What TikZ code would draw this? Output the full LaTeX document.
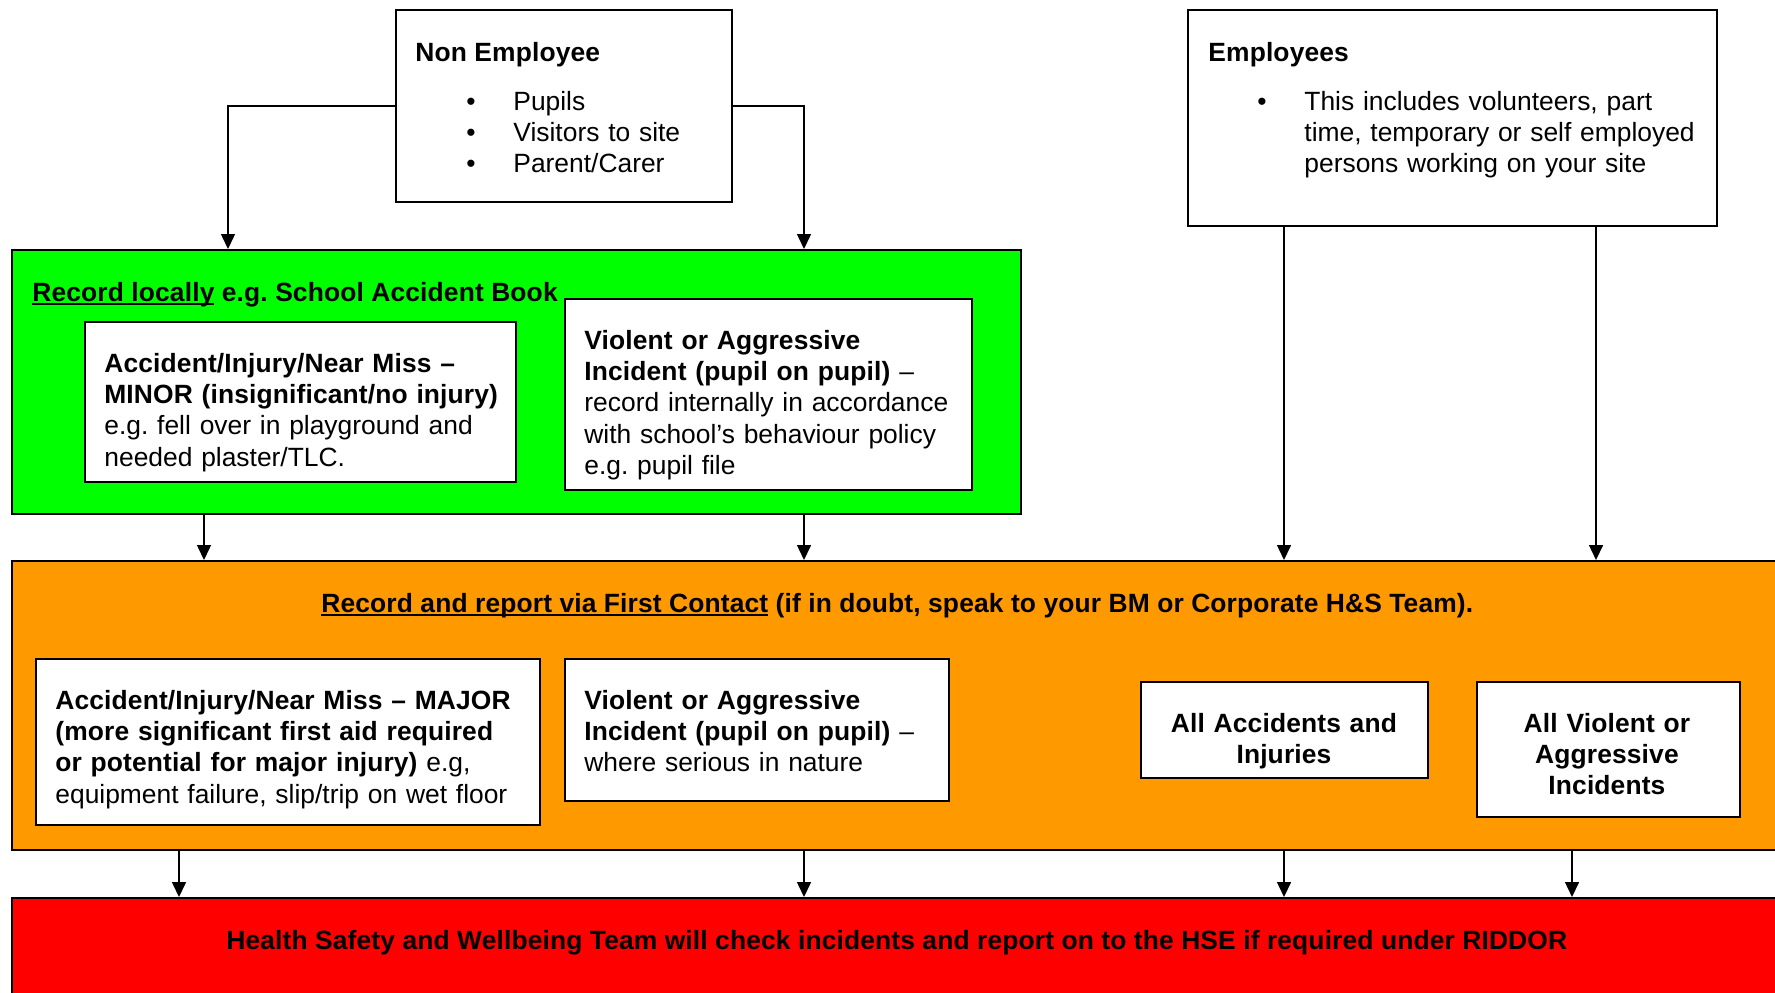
\documentclass[tikz,border=0pt]{standalone}
\usepackage{fontspec}
\setmainfont{Liberation Sans}[BoldFeatures={LetterSpace=0.5}]
\usetikzlibrary{arrows.meta}
\definecolor{grn}{HTML}{00FF00}
\definecolor{org}{HTML}{FF9900}
\definecolor{rd}{HTML}{FF0000}
\frenchspacing
\newcommand{\bul}{\makebox[23.5pt][l]{\textbullet}}
\newcommand{\ulin}[1]{\setbox0\hbox{#1}\rlap{\rule[-2.2pt]{\wd0}{1.4pt}}\box0{}}
\begin{document}
\begin{tikzpicture}[x=0.5pt,y=-0.5pt,
  font=\fontsize{13.2}{15.7}\selectfont\frenchspacing,
  box/.style={draw=black, line width=1pt, fill=white, inner sep=0pt, anchor=north west},
  txt/.style={anchor=base west, inner sep=0pt, align=left},
  ctxt/.style={anchor=base, inner sep=0pt, align=center},
  arr/.style={draw=black, line width=0.75pt, -{Triangle[length=7.5pt,width=7pt]}}]
\useasboundingbox (0,0) rectangle (1775,992);
\clip (0,0) rectangle (1775,992);

% top boxes
\node[box, minimum width=168pt, minimum height=96pt] (ne) at (395,9) {};
\node[box, minimum width=264.5pt, minimum height=108pt] (emp) at (1187,9) {};
% green
\node[box, fill=grn, minimum width=504.5pt, minimum height=132pt] (green) at (11,249) {};
\node[box, minimum width=215.5pt, minimum height=80pt] (minor) at (84,321) {};
\node[box, minimum width=203.5pt, minimum height=95.5pt] (vg) at (564,298) {};
% orange
\node[box, fill=org, minimum width=895pt, minimum height=144.5pt] (orange) at (11,560) {};
\node[box, minimum width=252pt, minimum height=83pt] (major) at (35,658) {};
\node[box, minimum width=192pt, minimum height=71pt] (vs) at (564,658) {};
\node[box, minimum width=143.5pt, minimum height=48pt] (allacc) at (1140,681) {};
\node[box, minimum width=131.5pt, minimum height=67.5pt] (allviol) at (1476,681) {};
% red
\node[box, fill=rd, minimum width=895pt, minimum height=60pt] (red) at (11,897) {};

% texts
\node[txt] (netitle) at (415,61) {\textbf{Non Employee}};
\node[txt, text width=150pt] (nelist) at (466,110) {\bul Pupils\\\bul Visitors to site\\\bul Parent/Carer};
\node[txt] (emptitle) at (1208,61) {\textbf{Employees}};
\node[txt, text width=240pt] (emplist) at (1257,110) {\bul This includes volunteers, part\\\hspace*{23.5pt}time, temporary or self employed\\\hspace*{23.5pt}persons working on your site};
\node[txt] (gtitle) at (32,301) {\textbf{\ulin{Record locally} e.g. School Accident Book}};
\node[txt, text width=210pt] (minortxt) at (104,372) {\textbf{Accident/Injury/Near Miss –}\\\textbf{MINOR (insignificant/no injury)}\\e.g. fell over in playground and\\needed plaster/TLC.};
\node[txt, text width=195pt] (vgtxt) at (584,349) {\textbf{Violent or Aggressive}\\\textbf{Incident (pupil on pupil)} –\\record internally in accordance\\with school’s behaviour policy\\e.g. pupil file};
\node[txt] (otitle) at (321,612) {\textbf{\ulin{Record and report via First Contact} (if in doubt, speak to your BM or Corporate H\&S Team).}};
\node[txt, text width=250pt] (majortxt) at (55,709) {\textbf{Accident/Injury/Near Miss – MAJOR}\\\textbf{(more significant first aid required}\\\textbf{or potential for major injury)} e.g,\\equipment failure, slip/trip on wet floor};
\node[txt, text width=185pt] (vstxt) at (584,709) {\textbf{Violent or Aggressive}\\\textbf{Incident (pupil on pupil)} –\\where serious in nature};
\node[ctxt, text width=140pt] (allacctxt) at (1284,732) {\textbf{All Accidents and}\\\textbf{Injuries}};
\node[ctxt, text width=128pt] (allvioltxt) at (1607,732) {\textbf{All Violent or}\\\textbf{Aggressive}\\\textbf{Incidents}};
\node[txt] (redtxt) at (226,949) {\textbf{Health Safety and Wellbeing Team will check incidents and report on to the HSE if required under RIDDOR}};

% connector end points
\coordinate (gin1) at (228,249);
\coordinate (gin2) at (804,249);
\coordinate (oin1) at (204,560);
\coordinate (oin2) at (804,560);
\coordinate (oin3) at (1284,560);
\coordinate (oin4) at (1596,560);
\coordinate (rin1) at (179,897);
\coordinate (rin2) at (804,897);
\coordinate (rin3) at (1284,897);
\coordinate (rin4) at (1572,897);

\draw[arr] (ne.west) -| (gin1);
\draw[arr] (ne.east) -| (gin2);
\draw[arr] (emp.south -| oin3) -- (oin3);
\draw[arr] (emp.south -| oin4) -- (oin4);
\draw[arr] (green.south -| oin1) -- (oin1);
\draw[arr] (green.south -| oin2) -- (oin2);
\draw[arr] (orange.south -| rin1) -- (rin1);
\draw[arr] (orange.south -| rin2) -- (rin2);
\draw[arr] (orange.south -| rin3) -- (rin3);
\draw[arr] (orange.south -| rin4) -- (rin4);
\end{tikzpicture}
\end{document}
